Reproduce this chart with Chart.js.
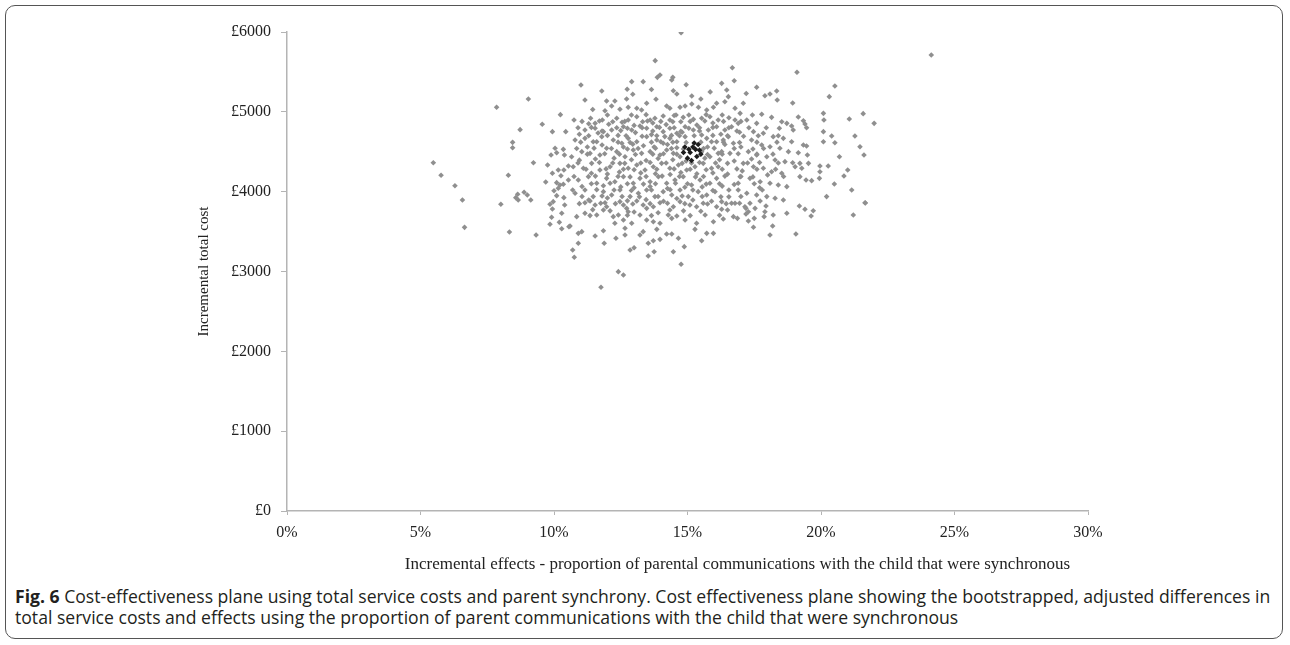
<!DOCTYPE html>
<html>
<head>
<meta charset="utf-8">
<script src="https://cdn.jsdelivr.net/npm/chart.js@4.4.1/dist/chart.umd.min.js"></script>
<style>
  html, body { margin: 0; padding: 0; background: #fff; }
  body { width: 1290px; height: 645px; position: relative; overflow: hidden; }
  .frame { position: absolute; left: 5px; top: 5px; width: 1276px; height: 632px; border: 1.5px solid #555; border-radius: 10px; }
  .chartbox { position: absolute; left: 0; top: 0; width: 1290px; height: 580px; }
  .caption { position: absolute; left: 15px; top: 586px; font-family: "Open Sans", "Noto Sans", sans-serif; font-size: 17.6px; line-height: 21px; color: #231f20; white-space: nowrap; }
  .caption b { font-weight: 700; }
</style>
</head>
<body>
<div class="frame"></div>
<div class="chartbox"><canvas id="plane"></canvas></div>
<div class="caption"><b>Fig. 6</b> Cost-effectiveness plane using total service costs and parent synchrony. Cost effectiveness plane showing the bootstrapped, adjusted differences in<br>total service costs and effects using the proportion of parent communications with the child that were synchronous</div>
<script>
// axis ticks
const effectTicks = [0, 5, 10, 15, 20, 25, 30];
const costTicks = [0, 1000, 2000, 3000, 4000, 5000, 6000];
const xTitle = 'Incremental effects - proportion of parental communications with the child that were synchronous';
const yTitle = 'Incremental total cost';

// bootstrapped replicates: [incremental effect %, incremental cost £]
const bootstrapPoints = [
  // left side
  [9.04,5161],[7.85,5057],[10.24,4965],[9.56,4844],[8.73,4777],[9.94,4752],[10.44,4752],[8.45,4618],[8.45,4551],
  [10.04,4543],[10.35,4530],[10.1,4488],[9.89,4460],[10.39,4460],[5.48,4363],[9.23,4363],[9.76,4334],[10.54,4322],
  [10.16,4272],[10.37,4272],[9.94,4230],[5.77,4205],[8.29,4205],[10.26,4200],[10.54,4146],[9.69,4121],[10.1,4113],
  [10.22,4084],[10.35,4092],[6.29,4075],[10.16,4042],[10.0,4012],[8.88,3992],[9.0,3958],[8.64,3967],[8.57,3925],
  [8.66,3896],[9.13,3896],[10.1,3950],[10.37,3925],[6.57,3896],[8.01,3842],[9.85,3842],[10.4,3833],[9.94,3783],
  [9.97,3875],[10.29,3729],[9.91,3679],
  [9.85,3591],[10.2,3616],[10.29,3536],[10.56,3561],[6.65,3553],[8.33,3495],[9.33,3457],
  // lower middle
  [11.16,3862],[11.35,3883],[11.54,3833],[11.91,3862],[11.97,3812],[12.47,3875],[12.6,3833],[12.72,3791],[12.78,3749],
  [13.1,3883],[13.34,3833],[13.47,3791],[13.72,3812],[13.97,3862],[14.34,3770],[14.47,3812],[14.72,3875],[15.09,3833],
  [15.34,3812],[15.59,3854],[16.09,3812],
  [10.85,3687],[11.16,3729],[11.6,3708],[11.85,3770],[12.22,3687],[12.41,3708],[12.28,3604],[12.6,3645],[12.91,3604],
  [13.22,3708],[13.47,3645],[13.72,3624],[13.97,3604],[14.28,3708],[14.41,3666],[14.91,3645],[15.34,3604],[15.66,3708],
  [15.97,3624],
  [10.6,3570],[10.91,3478],[11.04,3499],[11.54,3445],[11.85,3511],[12.66,3541],[12.66,3457],[13.22,3457],[13.34,3499],
  [13.85,3528],[14.22,3470],[14.41,3470],[14.66,3416],[13.97,3403],[13.72,3386],[13.53,3353],[15.28,3528],[15.72,3478],
  [15.97,3478],[15.53,3386],[12.32,3416],[11.88,3353],[10.7,3269],[10.91,3353],[10.76,3178],[12.85,3269],[13.0,3298],
  [13.53,3194],[13.75,3248],[14.47,3248],[14.88,3311],[14.76,3090],[12.41,2998],[12.6,2956],[11.76,2802],
  // lower right
  [16.28,3875],[16.28,3779],[16.65,3854],[16.34,3658],[17.34,3854],[17.72,3883],[17.94,3820],[17.19,3791],[17.28,3749],
  [17.19,3720],[16.72,3687],[16.87,3666],[17.28,3633],[17.5,3666],[17.87,3687],[17.47,3554],[18.19,3570],[18.09,3457],
  [18.72,3729],[19.19,3820],[19.4,3779],[19.71,3761],[19.63,3695],[19.06,3470],[21.21,3708],[21.66,3858],
  // upper middle
  [14.76,5991],[13.79,5641],[13.97,5461],[13.87,5432],[14.45,5432],[14.41,5399],[11.01,5336],[12.91,5378],[13.34,5378],
  [11.79,5261],[12.74,5282],[14.47,5265],[14.6,5223],[15.16,5198],[11.16,5148],[11.97,5136],[12.28,5136],[12.72,5161],
  [13.82,5157],[13.47,5107],[14.22,5073],[14.34,5044],[14.72,5057],[14.91,5073],[15.16,5098],[15.41,5057],[15.72,5023],
  [15.97,5057],[16.09,5107],[11.91,5014],[12.16,5073],[12.47,5032],[12.78,5057],[13.1,5044],[13.28,5023],
  [10.75,4898],[11.37,4919],[11.54,4856],[11.81,4898],[12.35,4919],[12.78,4898],[13.1,4939],[13.32,4876],[13.6,4898],
  [13.78,4919],[14.09,4948],[14.34,4898],[14.57,4960],[14.84,4931],[15.22,4906],[15.53,4919],[15.84,4939],[16.15,4898],
  [11.16,4772],[11.54,4794],[11.85,4752],[12.16,4772],[12.6,4814],[12.91,4772],[13.22,4823],[13.47,4794],[13.85,4814],
  [14.09,4752],[14.34,4794],[14.6,4731],[14.91,4814],[15.22,4772],[15.53,4710],[15.78,4772],[16.09,4814],
  [10.79,4647],[11.16,4668],[11.47,4626],[11.79,4689],[12.22,4647],[12.54,4606],[12.78,4668],[13.1,4626],[13.47,4689],
  [13.85,4647],[14.09,4606],[14.34,4668],[14.6,4626],[14.91,4689],[15.72,4668],[16.09,4626],
  [10.66,4438],[11.04,4501],[11.35,4480],[11.72,4459],[11.97,4543],[12.35,4501],[12.66,4438],[12.97,4522],[13.28,4480],
  [13.6,4501],[13.97,4459],[14.22,4522],[14.47,4480],[14.72,4438],[15.53,4501],[15.84,4438],[16.15,4480],
  [10.72,4313],[11.1,4293],[11.41,4355],[11.72,4272],[12.1,4313],[12.47,4355],[12.78,4293],[13.1,4334],[13.41,4272],
  [13.72,4313],[14.03,4355],[14.34,4293],[14.66,4334],[14.97,4272],[15.28,4313],[15.59,4355],[15.9,4293],[16.15,4313],
  [10.91,4146],[11.29,4188],[11.6,4105],[11.97,4167],[12.28,4125],[12.6,4188],[12.97,4105],[13.22,4167],[13.6,4125],
  [13.91,4188],[14.22,4105],[14.53,4146],[14.84,4188],[15.15,4084],[15.47,4146],[15.84,4105],[16.09,4167],
  [10.79,3980],[11.16,4021],[11.47,3938],[11.85,4000],[12.16,3959],[12.47,4021],[12.85,3938],[13.16,3980],[13.47,4021],
  [13.78,3938],[14.09,4000],[14.41,3959],[14.72,4021],[15.03,3938],[15.4,4000],[15.72,3959],[16.03,4000],
  // dense core
  [11.3,4850],[12.05,4845],[12.55,4870],[13.0,4830],[13.7,4860],[14.2,4840],[14.75,4875],[15.35,4835],[15.95,4860],[16.55,4925],
  [10.95,4720],[11.65,4735],[12.4,4705],[13.05,4740],[13.65,4715],[14.15,4690],[14.8,4745],[15.45,4760],[16.25,4720],[16.95,4745],
  [11.25,4560],[11.8,4585],[12.6,4560],[12.95,4595],[13.35,4575],[13.75,4560],[14.25,4590],[14.6,4550],[15.75,4560],[16.4,4590],[17.0,4560],
  [10.95,4395],[11.55,4410],[12.25,4420],[12.9,4400],[13.45,4390],[13.9,4415],[14.45,4400],[14.95,4385],[15.65,4420],[16.2,4400],[16.75,4385],[17.4,4410],
  [11.4,4230],[12.0,4220],[12.45,4245],[13.25,4235],[13.8,4225],[14.35,4215],[14.75,4240],[15.35,4225],[15.95,4235],[16.5,4220],[17.05,4260],[18.0,4210],
  [11.05,4065],[11.85,4075],[12.5,4060],[13.0,4050],[13.6,4065],[14.25,4040],[14.9,4055],[15.55,4060],[16.3,4070],[16.75,4090],[17.7,4050],
  [11.3,3895],[12.0,3920],[12.75,3885],[13.45,3900],[14.1,3880],[14.6,3915],[15.2,3895],[15.9,3880],[16.55,3935],
  [11.45,3775],[12.1,3760],[13.0,3745],[13.9,3735],[14.85,3760],[15.5,3755],[16.5,3770],
  [11.45,5030],[12.95,5220],[13.65,5280],[14.95,5340],[15.5,5160],[15.85,5250],[16.75,5390],[17.2,5230],
  [12.0,4960],[12.9,4960],[13.45,4965],[14.5,4955],[15.05,4960],[15.7,4965],[16.3,4960],
  [11.05,4880],[11.7,4885],[12.2,4875],[12.65,4880],[13.5,4885],[14.0,4880],[14.45,4875],[15.1,4880],[15.65,4885],[16.35,4880],[17.0,4880],
  [10.9,4800],[11.4,4805],[12.35,4800],[12.75,4795],[13.3,4800],[13.95,4805],[14.5,4800],[15.05,4795],[15.45,4800],[15.95,4805],[16.55,4800],[17.3,4800],[17.95,4800],
  [11.8,4760],[12.5,4765],[13.7,4760],[14.75,4755],[16.85,4760],
  [11.3,4700],[12.0,4705],[12.7,4700],[13.3,4695],[13.85,4700],[14.4,4705],[14.7,4700],[15.25,4700],[15.95,4705],[16.5,4700],[17.1,4695],[17.65,4700],[18.4,4700],
  [11.0,4620],[11.6,4625],[12.4,4620],[12.85,4615],[13.65,4620],[14.0,4625],[14.45,4620],[14.95,4615],[15.5,4620],[15.9,4625],[16.35,4620],[16.95,4615],[17.6,4620],[18.35,4620],
  [10.85,4540],[11.5,4545],[12.15,4540],[12.75,4535],[13.15,4540],[13.8,4545],[14.4,4540],[14.85,4535],[15.6,4540],[16.0,4545],[16.75,4540],[17.45,4535],[17.85,4540],
  [11.25,4470],[11.9,4475],[12.45,4470],[13.05,4465],[13.7,4470],[14.1,4475],[14.6,4470],[15.75,4465],[16.3,4470],[16.9,4475],[17.6,4470],[18.2,4470],
  [10.9,4360],[11.7,4365],[12.2,4360],[12.65,4355],[13.25,4360],[13.6,4365],[14.2,4360],[14.8,4355],[15.15,4360],[15.45,4365],[16.05,4360],[16.5,4355],[17.25,4360],[17.7,4365],[18.4,4360],
  [11.2,4280],[11.95,4285],[12.6,4280],[13.0,4275],[13.85,4280],[14.5,4285],[15.1,4280],[15.7,4275],[16.3,4280],[16.85,4285],[17.6,4280],[18.3,4280],
  [10.75,4190],[11.55,4195],[12.4,4190],[12.85,4185],[13.45,4190],[14.05,4195],[14.7,4190],[15.3,4185],[15.6,4190],[16.4,4195],[17.0,4190],[17.45,4185],[18.6,4190],
  [11.4,4100],[12.1,4105],[12.75,4100],[13.35,4095],[13.8,4100],[14.55,4105],[15.0,4100],[15.7,4095],[16.2,4100],[16.9,4105],[17.5,4100],
  [10.7,4020],[11.6,4025],[12.25,4020],[12.9,4015],[13.65,4020],[14.35,4025],[15.2,4020],[15.95,4015],[16.55,4020],[17.8,4020],
  [11.05,3940],[11.8,3945],[12.55,3940],[13.2,3935],[13.9,3940],[14.8,3945],[15.55,3940],[16.25,3935],[17.0,3940],
  [10.95,3850],[11.75,3855],[12.3,3850],[12.95,3845],[13.6,3850],[14.25,3855],[14.9,3850],[15.75,3845],[16.45,3850],[16.95,3855],
  [11.35,3700],[12.75,3705],[13.65,3700],[14.6,3695],[15.1,3700],[16.2,3705],
  // upper right
  [16.68,5553],[19.1,5495],[20.52,5324],[20.31,5190],[17.59,5307],[17.9,5202],[18.09,5223],[18.34,5261],[18.36,5148],
  [18.94,5111],[21.58,4977],[21.06,4910],[20.11,4898],[20.09,4981],[19.15,4935],[19.34,4889],[19.4,4848],[19.46,4801],
  [18.53,4876],[18.72,4856],[18.9,4823],[18.44,4794],[18.96,4772],[18.15,4931],[17.78,4969],[17.43,4960],[17.59,4856],
  [17.22,4898],[17.09,5107],[16.78,5044],[16.97,4981],[16.47,5273],[16.53,5190],[16.28,5357],[16.4,5127],
  [16.78,4898],[16.9,4856],[16.65,4814],[16.4,4772],[16.34,4647],[16.53,4689],[16.72,4606],[16.28,4501],[16.59,4480],
  [20.09,4752],[20.4,4697],[20.52,4613],[20.09,4626],[21.27,4697],[21.46,4563],[21.61,4459],[20.69,4438],[21.0,4272],
  [20.86,4196],[20.5,4096],[19.96,4322],[20.27,4322],[19.96,4250],[19.94,4167],[19.65,4138],[19.44,4146],[19.21,4188],
  [19.34,4585],[19.46,4572],[19.15,4488],[19.49,4459],[19.21,4355],[19.53,4355],[19.28,4293],[18.94,4363],[19.03,4313],
  [20.21,3938],[21.15,4021],[21.65,3862],
  [17.47,4752],[17.84,4731],[18.21,4689],[18.59,4668],[18.9,4626],[17.4,4647],[17.78,4585],[18.09,4563],[18.46,4543],
  [18.78,4501],[17.28,4501],[17.59,4459],[17.97,4438],[18.28,4397],[18.65,4376],[17.09,4355],[17.47,4313],[17.84,4293],
  [18.15,4250],[18.53,4230],[16.97,4188],[17.34,4167],[17.72,4125],[18.09,4105],[18.4,4084],[18.72,4063],[16.9,4021],
  [17.22,3980],[17.59,3959],[17.97,3938],[18.28,3917],[18.59,3896],[16.78,3854],[17.15,3812],[17.53,3791],[17.9,3749],
  [18.21,3708],
  // far outliers
  [24.13,5712],[21.99,4856]
];

// dark cluster around the point estimate
const meanPoints = [
  [14.9,4560],[15.1,4490],[15.2,4560],[15.35,4440],[15.45,4520],[15.25,4610],
  [15.0,4420],[15.4,4590],[14.85,4490],[15.5,4470],[15.15,4390],[15.3,4530],[15.05,4530]
];

const serif = 'Liberation Serif, Times New Roman, serif';
const axisGrey = '#b4b4b4';

// x axis title sits a little right of centre in the original
const xTitlePlugin = {
  id: 'xTitle',
  afterDraw(chart) {
    const area = chart.chartArea;
    const c = chart.ctx;
    c.save();
    c.font = '17px ' + serif;
    c.fillStyle = '#222';
    c.textAlign = 'center';
    c.textBaseline = 'middle';
    c.fillText(xTitle, (area.left + area.right) / 2 + 50, area.bottom + 54);
    c.restore();
  }
};

const ctx = document.getElementById('plane');

new Chart(ctx, {
  type: 'scatter',
  data: {
    datasets: [
      {
        label: 'Point estimate',
        data: meanPoints.map(p => ({ x: p[0], y: p[1] })),
        pointStyle: 'rectRot',
        pointRadius: 2.8,
        backgroundColor: '#1c1c1c',
        borderWidth: 0
      },
      {
        label: 'Bootstrap replicates',
        data: bootstrapPoints.map(p => ({ x: p[0], y: p[1] })),
        pointStyle: 'rectRot',
        pointRadius: 2.8,
        backgroundColor: '#8f8f8f',
        borderWidth: 0
      }
    ]
  },
  plugins: [xTitlePlugin],
  options: {
    responsive: true,
    maintainAspectRatio: false,
    animation: false,
    layout: { padding: { left: 191, top: 32, right: 202, bottom: 2 } },
    plugins: { legend: { display: false }, tooltip: { enabled: false } },
    scales: {
      x: {
        type: 'linear',
        min: effectTicks[0],
        max: effectTicks[effectTicks.length - 1],
        afterBuildTicks: s => { s.ticks = effectTicks.map(v => ({ value: v })); },
        afterFit: s => { s.height = 67; },
        ticks: { callback: v => v + '%', font: { family: serif, size: 16 }, color: '#222', padding: 8, maxRotation: 0 },
        grid: { drawOnChartArea: false, tickLength: 4, color: axisGrey },
        border: { color: axisGrey, width: 1.5 }
      },
      y: {
        min: costTicks[0],
        max: costTicks[costTicks.length - 1],
        afterBuildTicks: s => { s.ticks = costTicks.map(v => ({ value: v })); },
        afterFit: s => { s.width = 96; },
        ticks: { callback: v => '£' + v, font: { family: serif, size: 16 }, color: '#222', padding: 10 },
        grid: { drawOnChartArea: false, tickLength: 6, color: axisGrey },
        border: { color: axisGrey, width: 1.5 },
        title: {
          display: true,
          text: yTitle,
          font: { family: serif, size: 15 },
          color: '#222',
          padding: { top: 4, bottom: 4 }
        }
      }
    }
  }
});
</script>
</body>
</html>
